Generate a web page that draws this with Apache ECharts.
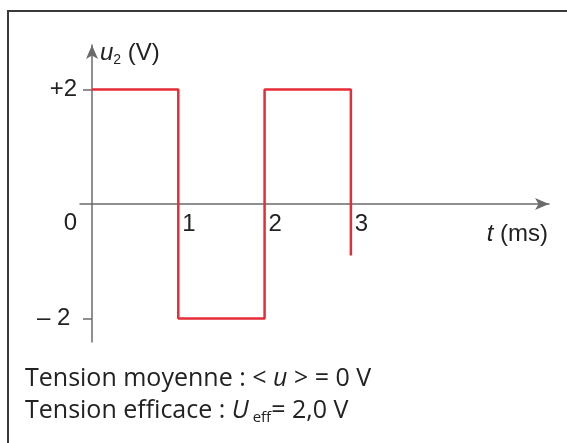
<!DOCTYPE html>
<html>
<head>
<meta charset="utf-8">
<script src="https://cdn.jsdelivr.net/npm/echarts@6/dist/echarts.min.js"></script>
<style>
  html, body { margin: 0; padding: 0; background: #fff; }
  #chart { width: 567px; height: 443px; }
</style>
</head>
<body>
<div id="chart"></div>
<script>
// Square-wave voltage u2(t): time in ms, voltage in V
const times = [0, 1, 1, 2, 2, 3, 3];
const voltages = [2, 2, -2, -2, 2, 2, -0.9];

// Axis ticks and labels
const timeLabels = [1, 2, 3];
const voltTicks = [2, -2];
const voltLabels = [2, 0, -2];

const chart = echarts.init(document.getElementById('chart'), null, { renderer: 'canvas' });

const axisColor = '#6b6b6b';
const textColor = '#222';
const font = 'Liberation Sans, Arial, sans-serif';
const textFont = '"Open Sans", "Noto Sans", sans-serif';

// Plot area; the axes cross at the origin inside it
const grid = { left: 80, right: 18, top: 45, bottom: 101 };
const xMin = -0.139, xMax = 5.296;
const yMin = -2.41, yMax = 2.777;
const plotW = 567 - grid.left - grid.right;
const plotH = 443 - grid.top - grid.bottom;
const xAxisOffset = -plotH * (0 - yMin) / (yMax - yMin);
const yAxisOffset = -plotW * (0 - xMin) / (xMax - xMin);

chart.setOption({
  animation: false,
  backgroundColor: '#fff',
  grid: Object.assign({ containLabel: false, outerBoundsMode: 'none' }, grid),
  xAxis: {
    type: 'value',
    position: 'bottom',
    offset: xAxisOffset,
    min: xMin,
    max: xMax,
    splitLine: { show: false },
    axisLine: {
      onZero: false,
      symbol: ['none', 'arrow'],
      symbolSize: [9, 14],
      lineStyle: { color: axisColor, width: 1.5 }
    },
    axisTick: { show: false },
    axisLabel: {
      customValues: timeLabels,
      align: 'left',
      margin: 8,
      fontSize: 24,
      fontFamily: font,
      color: textColor,
      padding: [0, 0, 0, 4]
    },
    name: '{i|t}{n| (ms)}',
    nameLocation: 'end',
    nameGap: -1,
    nameTextStyle: {
      align: 'right',
      verticalAlign: 'top',
      padding: [18, 0, 0, 0],
      rich: {
        i: { fontSize: 24, fontStyle: 'italic', fontFamily: font, color: textColor },
        n: { fontSize: 24, fontFamily: font, color: textColor }
      }
    }
  },
  yAxis: {
    type: 'value',
    position: 'left',
    offset: yAxisOffset,
    min: yMin,
    max: yMax,
    splitLine: { show: false },
    axisLine: {
      onZero: false,
      symbol: ['none', 'arrow'],
      symbolSize: [9, 14],
      lineStyle: { color: axisColor, width: 1.5 }
    },
    axisTick: {
      customValues: voltTicks,
      length: 9,
      lineStyle: { color: axisColor, width: 1.5 }
    },
    axisLabel: {
      customValues: voltLabels,
      margin: 15,
      fontSize: 24,
      fontFamily: font,
      color: textColor,
      formatter: function (v) {
        if (v > 0) return '+' + v;
        if (v < 0) return '– ' + Math.abs(v) + ' ';
        return '{z|0}';
      },
      rich: {
        z: { fontSize: 24, fontFamily: font, color: textColor, padding: [38, 0, 0, 0] }
      }
    },
    name: '{i|u}{s|2}{n| (V)}',
    nameLocation: 'end',
    nameGap: -8,
    nameTextStyle: {
      align: 'left',
      verticalAlign: 'middle',
      padding: [0, 0, 0, 8],
      rich: {
        i: { fontSize: 24, fontStyle: 'italic', fontFamily: font, color: textColor, lineHeight: 28 },
        s: { fontSize: 14, fontFamily: font, color: textColor, verticalAlign: 'bottom', lineHeight: 14 },
        n: { fontSize: 24, fontFamily: font, color: textColor, lineHeight: 28 }
      }
    }
  },
  series: [{
    type: 'line',
    data: times.map((t, i) => [t, voltages[i]]),
    showSymbol: false,
    silent: true,
    lineStyle: { color: '#e52d35', width: 2.5 },
    z: 3
  }],
  graphic: [
    {
      type: 'rect',
      shape: { x: 8, y: 11, width: 700, height: 600 },
      style: { fill: 'none', stroke: '#3a3a3a', lineWidth: 2 },
      silent: true
    },
    {
      type: 'text',
      left: 25,
      top: 366,
      style: {
        text: '{a|Tension moyenne : < }{i|u}{a| > = 0 V}',
        rich: {
          a: { fontSize: 25, fontFamily: textFont, fill: textColor, lineHeight: 30 },
          i: { fontSize: 25, fontFamily: textFont, fontStyle: 'italic', fill: textColor, lineHeight: 30 }
        }
      }
    },
    {
      type: 'text',
      left: 25,
      top: 398,
      style: {
        text: '{a|Tension efficace : }{i|U}{s| eff}{a|= 2,0 V}',
        rich: {
          a: { fontSize: 25, fontFamily: textFont, fill: textColor, lineHeight: 30 },
          i: { fontSize: 25, fontFamily: textFont, fontStyle: 'italic', fill: textColor, lineHeight: 30 },
          s: { fontSize: 15, fontFamily: textFont, fill: textColor, verticalAlign: 'bottom', lineHeight: 15 }
        }
      }
    }
  ]
});
</script>
</body>
</html>
